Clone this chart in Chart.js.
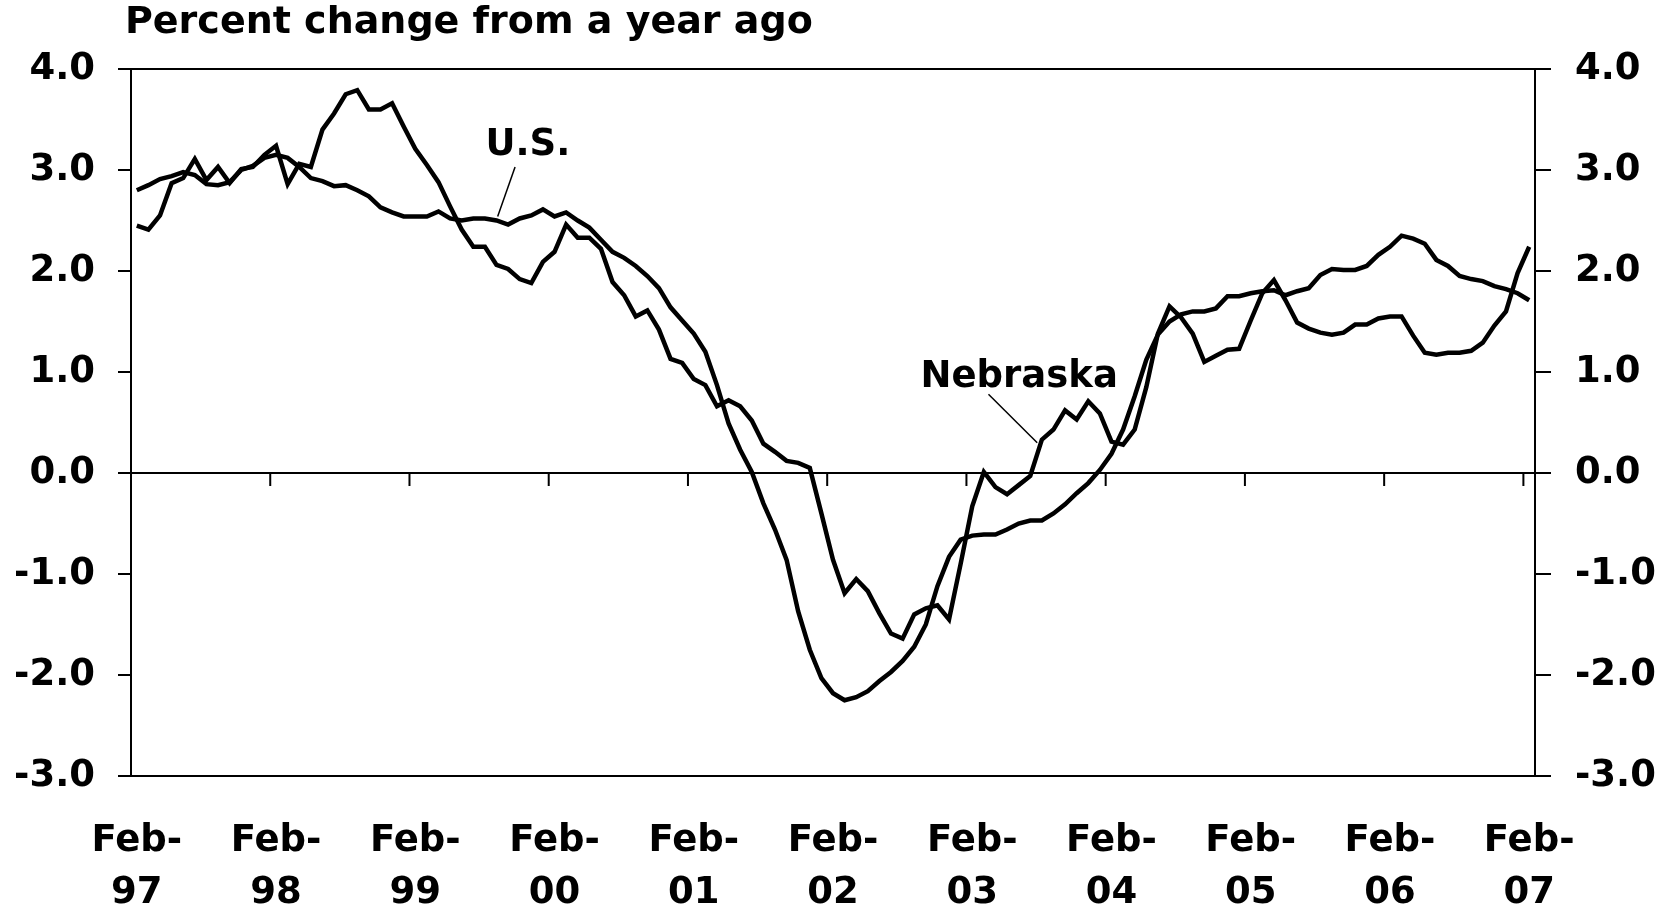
<!DOCTYPE html>
<html>
<head>
<meta charset="utf-8">
<script src="https://cdn.jsdelivr.net/npm/chart.js@4.4.0/dist/chart.umd.min.js"></script>
<style>
html, body { margin: 0; padding: 0; background: #fff; }
</style>
</head>
<body>
<canvas id="myChart" width="1669" height="914"></canvas>
<script>
// -- monthly categories, Feb-97 .. Feb-07 --
const monthNames = ['Jan','Feb','Mar','Apr','May','Jun','Jul','Aug','Sep','Oct','Nov','Dec'];
const firstYear = 1997;
const monthCount = 121;
let labels = [];
for (let k = 0; k < monthCount; k++) {
    let m = (1 + k) % 12;
    let yr = firstYear + Math.floor((1 + k) / 12);
    labels.push(monthNames[m] + '-' + String(yr).slice(2));
}

// -- series: percent change from a year ago --
const usValues = [
    2.80, 2.85, 2.91, 2.94, 2.98, 2.95, 2.86, 2.85, 2.88, 3.00, 3.04, 3.12,
    3.15, 3.12, 3.03, 2.92, 2.89, 2.84, 2.85, 2.80, 2.74, 2.63, 2.58, 2.54,
    2.54, 2.54, 2.59, 2.52, 2.50, 2.52, 2.52, 2.50, 2.46, 2.52, 2.55, 2.61,
    2.54, 2.58, 2.50, 2.43, 2.31, 2.19, 2.13, 2.05, 1.95, 1.83, 1.64, 1.51,
    1.38, 1.20, 0.87, 0.49, 0.23, 0.01, -0.30, -0.56, -0.86, -1.37, -1.75, -2.03,
    -2.18, -2.25, -2.22, -2.16, -2.06, -1.97, -1.86, -1.72, -1.50, -1.12, -0.83, -0.66,
    -0.62, -0.61, -0.61, -0.56, -0.50, -0.47, -0.47, -0.40, -0.31, -0.20, -0.10, 0.03,
    0.19, 0.43, 0.76, 1.12, 1.37, 1.50, 1.57, 1.60, 1.60, 1.63, 1.75, 1.75,
    1.78, 1.80, 1.81, 1.76, 1.80, 1.83, 1.96, 2.02, 2.01, 2.01, 2.05, 2.16,
    2.24, 2.35, 2.32, 2.27, 2.11, 2.05, 1.95, 1.92, 1.90, 1.85, 1.82, 1.78,
    1.71
];
const nebraskaValues = [
    2.45, 2.41, 2.55, 2.87, 2.92, 3.11, 2.90, 3.03, 2.87, 3.01, 3.03, 3.15,
    3.24, 2.86, 3.06, 3.03, 3.40, 3.56, 3.75, 3.79, 3.60, 3.60, 3.66, 3.43,
    3.21, 3.05, 2.88, 2.64, 2.41, 2.24, 2.24, 2.06, 2.02, 1.92, 1.88, 2.09,
    2.19, 2.46, 2.33, 2.33, 2.22, 1.89, 1.76, 1.55, 1.61, 1.42, 1.13, 1.09,
    0.93, 0.87, 0.66, 0.72, 0.66, 0.52, 0.29, 0.21, 0.12, 0.10, 0.05, -0.40,
    -0.86, -1.19, -1.05, -1.17, -1.39, -1.59, -1.64, -1.40, -1.34, -1.31, -1.45, -0.90,
    -0.33, 0.01, -0.14, -0.21, -0.12, -0.03, 0.33, 0.43, 0.62, 0.53, 0.71, 0.59,
    0.31, 0.28, 0.43, 0.85, 1.38, 1.65, 1.54, 1.38, 1.10, 1.16, 1.22, 1.23,
    1.51, 1.78, 1.91, 1.71, 1.49, 1.43, 1.39, 1.37, 1.39, 1.47, 1.47, 1.53,
    1.55, 1.55, 1.36, 1.19, 1.17, 1.19, 1.19, 1.21, 1.29, 1.46, 1.60, 1.98,
    2.24
];

// -- axis settings --
const yMin = -3;
const yMax = 4;
const tickEvery = 12;
const titleText = 'Percent change from a year ago';

// -- series labels with leader lines, in data units (category index, value) --
const notes = [
    { text: 'U.S.',     at: [33.7, 3.24],  from: [32.6, 3.03], to: [31.1, 2.54] },
    { text: 'Nebraska', at: [76.05, 0.95], from: [73.4, 0.78], to: [77.6, 0.30] }
];

const boldFont = { family: 'DejaVu Sans', size: 37, weight: 'bold' };
Chart.defaults.font.family = 'DejaVu Sans';
Chart.defaults.color = '#000';

// --> top frame line, zero line with its tick marks, title and the series notes <--
const framePlugin = {
    id: 'frame',
    afterDatasetsDraw(chart) {
        const ctx = chart.ctx;
        const area = chart.chartArea;
        const xs = chart.scales.x;
        const ys = chart.scales.y;
        ctx.save();
        ctx.strokeStyle = '#000';
        ctx.lineWidth = 2;

        ctx.beginPath();
        ctx.moveTo(area.left, area.top);
        ctx.lineTo(area.right, area.top);
        ctx.stroke();

        let y0 = ys.getPixelForValue(0);
        ctx.beginPath();
        ctx.moveTo(area.left, y0);
        ctx.lineTo(area.right, y0);
        for (let i = tickEvery; i < labels.length; i += tickEvery) {
            let xb = (xs.getPixelForValue(i) + xs.getPixelForValue(i - 1)) / 2;
            ctx.moveTo(xb, y0);
            ctx.lineTo(xb, y0 + 13);
        }
        ctx.stroke();

        ctx.fillStyle = '#000';
        ctx.font = 'bold 38px "DejaVu Sans"';
        ctx.textAlign = 'left';
        ctx.textBaseline = 'alphabetic';
        ctx.fillText(titleText, area.left - 6, area.top - 36);

        ctx.lineWidth = 1.5;
        ctx.font = 'bold 37px "DejaVu Sans"';
        ctx.textAlign = 'center';
        ctx.textBaseline = 'middle';
        for (let n of notes) {
            ctx.beginPath();
            ctx.moveTo(xs.getPixelForValue(n.from[0]), ys.getPixelForValue(n.from[1]));
            ctx.lineTo(xs.getPixelForValue(n.to[0]), ys.getPixelForValue(n.to[1]));
            ctx.stroke();
            ctx.fillText(n.text, xs.getPixelForValue(n.at[0]), ys.getPixelForValue(n.at[1]));
        }
        ctx.restore();
    }
};

let chartObj = {
    type: 'line',
    data: {
        labels: labels,
        datasets: [{
            label: 'U.S.',
            data: usValues,
            borderColor: '#000',
            borderWidth: 4.5,
            pointRadius: 0,
            tension: 0
        },
        {
            label: 'Nebraska',
            data: nebraskaValues,
            borderColor: '#000',
            borderWidth: 4.5,
            pointRadius: 0,
            tension: 0
        }]
    },
    options: {
        responsive: false,
        animation: false,
        layout: { padding: { top: 69, left: 0, right: 0, bottom: 0 } },
        plugins: {
            legend: { display: false },
            tooltip: { enabled: false },
            title: { display: false }
        },
        scales: {
            x: {
                offset: true,
                grid: { display: false, drawTicks: false },
                border: { display: true, color: '#000', width: 2 },
                ticks: {
                    autoSkip: false,
                    maxRotation: 0,
                    padding: 40,
                    color: '#000',
                    font: { family: 'DejaVu Sans', size: 37, weight: 'bold', lineHeight: 1.39 },
                    callback: function (val, idx) {
                        if (idx % tickEvery !== 0) return null;
                        let s = labels[idx];
                        return [s.slice(0, 4), s.slice(4)];
                    }
                },
                afterFit: (s) => { s.height = 138; }
            },
            y: {
                position: 'left',
                min: yMin,
                max: yMax,
                ticks: { stepSize: 1, padding: 23, color: '#000', font: boldFont, callback: (v) => v.toFixed(1) },
                grid: { drawOnChartArea: false, tickLength: 13, color: '#000', lineWidth: 2 },
                border: { display: true, color: '#000', width: 2 },
                afterFit: (s) => { s.width = 131; }
            },
            y2: {
                position: 'right',
                min: yMin,
                max: yMax,
                ticks: { stepSize: 1, padding: 24, color: '#000', font: boldFont, callback: (v) => v.toFixed(1) },
                grid: { drawOnChartArea: false, tickLength: 16, color: '#000', lineWidth: 2 },
                border: { display: true, color: '#000', width: 2 },
                afterFit: (s) => { s.width = 134; }
            }
        }
    },
    plugins: [framePlugin]
};

const ctx = document.getElementById('myChart').getContext('2d');
const myChart = new Chart(ctx, chartObj);
</script>
</body>
</html>
